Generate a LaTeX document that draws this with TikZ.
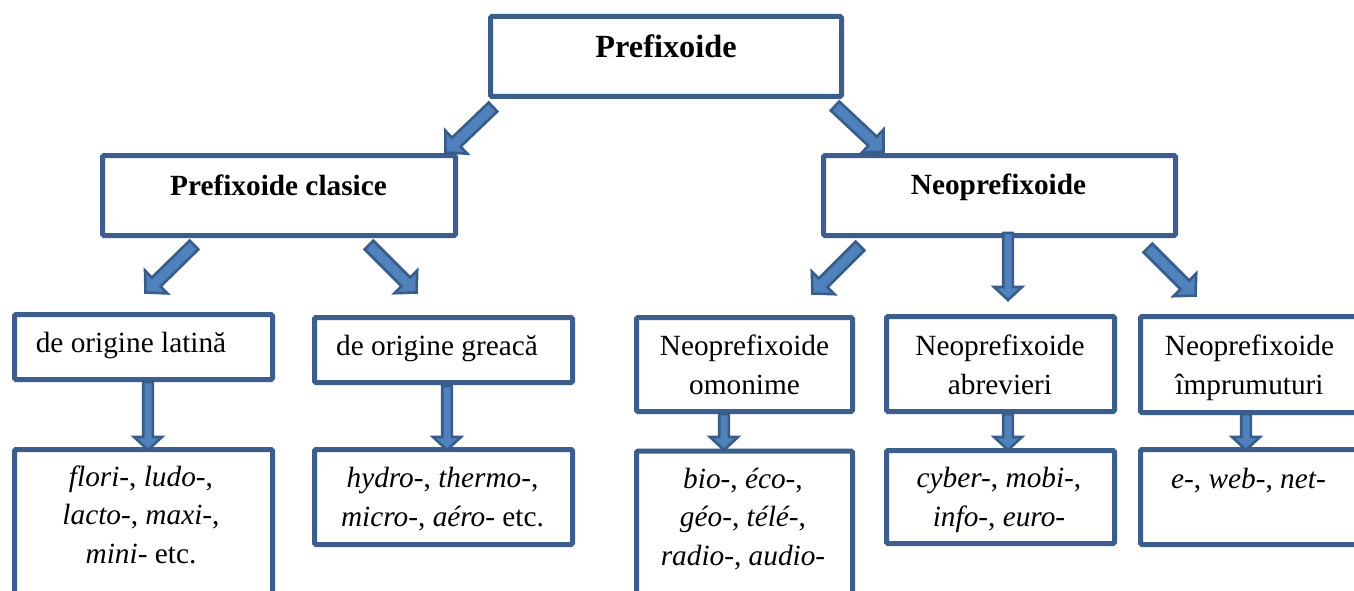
\documentclass[tikz,border=0pt]{standalone}
\usepackage{fontspec}
\setmainfont{Liberation Serif}
\usetikzlibrary{calc}
\definecolor{boxblue}{HTML}{3B5E8C}
\definecolor{arrfill}{HTML}{4F81BD}
\definecolor{arrline}{HTML}{385D8A}
\tikzset{
  box/.style={draw=boxblue, line width=5pt, fill=white, inner sep=0pt, rounded corners=1.5pt},
  txt/.style={inner sep=0pt, align=center, anchor=base, font=\fontsize{29.3}{38.5}\selectfont},
  barr/.style={draw=arrline, fill=arrfill, line width=2.6pt, line join=miter},
}
\newcommand\blockarr[5]{%
  \coordinate (hb) at ($(#2)!#5!(#1)$);
  \draw[barr] ($(#1)!#3!90:(#2)$) -- ($(hb)!#3!90:(#2)$) -- ($(hb)!#4!90:(#2)$) -- (#2)
    -- ($(hb)!#4!-90:(#2)$) -- ($(hb)!#3!-90:(#2)$) -- ($(#1)!#3!-90:(#2)$) -- cycle;}
\begin{document}
\begin{tikzpicture}[x=1pt, y=-1pt]
\useasboundingbox (0,0) rectangle (1354,591);
\fill[white] (0,0) rectangle (1354,591);
% boxes
\node[box, minimum width=351pt, minimum height=80pt] (P) at (666,56.5) {};
\node[box, minimum width=353pt, minimum height=80pt] (C) at (279,195.5) {};
\node[box, minimum width=352pt, minimum height=80pt] (N) at (999.5,195.5) {};
\node[box, minimum width=258pt, minimum height=65pt] (L) at (143.5,347) {};
\node[box, minimum width=258pt, minimum height=65pt] (G) at (443.5,350) {};
\node[box, minimum width=216pt, minimum height=94pt] (O) at (744.5,364.5) {};
\node[box, minimum width=228pt, minimum height=95pt] (A) at (1000.5,364) {};
\node[box, minimum width=218pt, minimum height=96pt] (I) at (1249.5,364.5) {};
\node[box, minimum width=258pt, minimum height=198pt] (LF) at (143.5,548.5) {};
\node[box, minimum width=258pt, minimum height=95pt] (GH) at (443.5,497) {};
\node[box, minimum width=216pt, minimum height=197pt] (OB) at (744.5,549.5) {};
\node[box, minimum width=228pt, minimum height=93pt] (AC) at (1000.5,497) {};
\node[box, minimum width=218pt, minimum height=95pt] (IE) at (1249.5,497) {};
% texts (base anchor = baseline of the last line)
\node[txt, font=\fontsize{32.3}{38.5}\selectfont] (Pt) at (666,58) {\textbf{Prefixoide}};
\node[txt] (Ct) at (278.5,195) {\textbf{Prefixoide clasice}};
\node[txt] (Nt) at (998.5,194) {\textbf{Neoprefixoide}};
\node[txt] (Lt) at (131,352) {de origine latină};
\node[txt] (Gt) at (437,355) {de origine greacă};
\node[txt] (Ot) at (744.5,394) {Neoprefixoide\\omonime};
\node[txt] (At) at (1000,394) {Neoprefixoide\\abrevieri};
\node[txt] (It) at (1249.5,394) {Neoprefixoide\\împrumuturi};
\node[txt] (LFt) at (141,563) {\textit{flori-}, \textit{ludo-},\\\textit{lacto-}, \textit{maxi-},\\\textit{mini-} etc.};
\node[txt] (GHt) at (442.5,526) {\textit{hydro-}, \textit{thermo-},\\\textit{micro-}, \textit{aéro-} etc.};
\node[txt] (OBt) at (743,565) {\textit{bio-}, \textit{éco-},\\\textit{géo-}, \textit{télé-},\\\textit{radio-}, \textit{audio-}};
\node[txt] (ACt) at (999,526) {\textit{cyber-}, \textit{mobi-},\\\textit{info-}, \textit{euro-}};
\node[txt] (IEt) at (1248.5,488) {\textit{e-}, \textit{web-}, \textit{net-}};
% arrow end points
\coordinate (s1) at (493,107);  \coordinate (e1) at (445.5,152.5);
\coordinate (s2) at (835,106);  \coordinate (e2) at (883.5,151.5);
\coordinate (s3) at (194,245);  \coordinate (e3) at (145.5,292.5);
\coordinate (s4) at (369,245);  \coordinate (e4) at (416.5,292.5);
\coordinate (s5) at (860,246);  \coordinate (e5) at (812.5,293.5);
\coordinate (s6) at (1148,248); \coordinate (e6) at (1195.5,295.5);
\coordinate (s7) at (1008,233); \coordinate (e7) at (1008,300);
\coordinate (s8) at (148,382);  \coordinate (e8) at (148,450);
\coordinate (s9) at (447,386);  \coordinate (e9) at (447,450);
\coordinate (s10) at (724,414); \coordinate (e10) at (724,450);
\coordinate (s11) at (1008,414); \coordinate (e11) at (1008,450);
\coordinate (s12) at (1246,414); \coordinate (e12) at (1246,450);
% arrows
\blockarr{s1}{e1}{6.2pt}{16pt}{15pt}
\blockarr{s2}{e2}{6.2pt}{16pt}{15pt}
\blockarr{s3}{e3}{6.2pt}{16pt}{15pt}
\blockarr{s4}{e4}{6.2pt}{16pt}{15pt}
\blockarr{s5}{e5}{6.2pt}{16pt}{15pt}
\blockarr{s6}{e6}{6.2pt}{16pt}{15pt}
\blockarr{s7}{e7}{4.8pt}{14pt}{13pt}
\blockarr{s8}{e8}{4.8pt}{14pt}{13pt}
\blockarr{s9}{e9}{4.8pt}{14pt}{13pt}
\blockarr{s10}{e10}{4.8pt}{14pt}{13pt}
\blockarr{s11}{e11}{4.8pt}{14pt}{13pt}
\blockarr{s12}{e12}{4.8pt}{14pt}{13pt}
\end{tikzpicture}
\end{document}
